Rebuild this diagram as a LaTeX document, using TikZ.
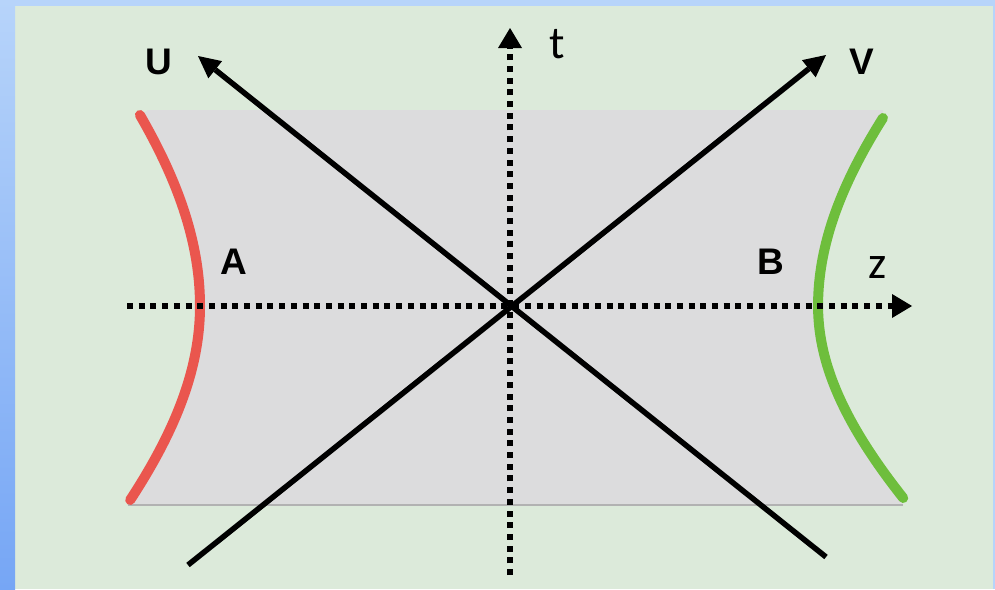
\documentclass[tikz,border=0pt]{standalone}
\usepackage{fontspec}
\setmainfont{Liberation Sans}
\newfontfamily\carlito{Carlito}
\usepackage{tikz}
\usetikzlibrary{arrows.meta}
\definecolor{bggreen}{RGB}{220,234,218}
\definecolor{bgblue}{RGB}{183,212,250}
\definecolor{bgbluedark}{RGB}{118,166,245}
\definecolor{wedgegray}{RGB}{220,220,221}
\definecolor{edgered}{RGB}{234,86,78}
\definecolor{edgegreen}{RGB}{110,190,60}

\begin{document}
\begin{tikzpicture}[x=1pt,y=-1pt,
  axis/.style={black,line width=6pt,dash pattern=on 6pt off 5.7pt,-{Triangle[length=20pt,width=24pt,line width=0pt]}},
  cone/.style={black,line width=5.5pt,-{Triangle[length=22pt,width=22pt,line width=0pt]}},
  edge/.style={line width=10pt,line cap=round},
  bold/.style={font=\fontsize{37pt}{40pt}\selectfont\bfseries,inner sep=0pt},
  thin/.style={font=\carlito\fontsize{46pt}{48pt}\selectfont,inner sep=0pt}]
\useasboundingbox (0,0) rectangle (995,589);
% frame
\fill[bggreen] (0,0) rectangle (995,589);
\fill[bgblue] (0,0) rectangle (995,6);
\shade[top color=bgblue,bottom color=bgbluedark] (0,0) rectangle (15,589);
\fill[bgblue] (993,0) rectangle (995,589);
% region between the two edges
\fill[wedgegray] (148,110) -- (883,110)
  -- plot[domain=118:306,samples=40,variable=\y] ({510+100*sqrt(9.49+1.25*((\y-306)/100)*((\y-306)/100))},\y)
  -- plot[domain=306:498,samples=40,variable=\y] ({510+100*sqrt(9.49+1.62*((\y-306)/100)*((\y-306)/100))},\y)
  -- (903,505) -- (128,505)
  -- plot[domain=500:306,samples=40,variable=\y] ({510-100*sqrt(9.61+1.28*((\y-306)/100)*((\y-306)/100))},\y)
  -- plot[domain=306:115,samples=40,variable=\y] ({510-100*sqrt(9.61+1.12*((\y-306)/100)*((\y-306)/100))},\y)
  -- cycle;
\draw[gray!60,line width=1.5pt] (128,505) -- (903,505);
\draw[edge,edgered]
  plot[domain=115:306,samples=40,variable=\y] ({510-100*sqrt(9.61+1.12*((\y-306)/100)*((\y-306)/100))},\y)
  -- plot[domain=306:500,samples=40,variable=\y] ({510-100*sqrt(9.61+1.28*((\y-306)/100)*((\y-306)/100))},\y);
\draw[edge,edgegreen]
  plot[domain=118:306,samples=40,variable=\y] ({510+100*sqrt(9.49+1.25*((\y-306)/100)*((\y-306)/100))},\y)
  -- plot[domain=306:498,samples=40,variable=\y] ({510+100*sqrt(9.49+1.62*((\y-306)/100)*((\y-306)/100))},\y);
% axes and light cone
\coordinate (tbot) at (510,575);
\coordinate (ttop) at (510,28);
\coordinate (zleft) at (127,306);
\coordinate (zright) at (912,306);
\coordinate (ubot) at (826,557);
\coordinate (utop) at (198,56);
\coordinate (vbot) at (188,565);
\coordinate (vtop) at (826,55);
\draw[axis] (tbot) -- (ttop);
\draw[axis] (zleft) -- (zright);
\draw[cone] (ubot) -- (utop);
\draw[cone] (vbot) -- (vtop);
% labels
\node[bold] (labu) at (159,62) {U};
\node[bold] (labv) at (862,62) {V};
\node[bold] (laba) at (234,262) {A};
\node[bold] (labb) at (771,262) {B};
\node[thin] (labt) at (557,44) {t};
\node[thin] (labz) at (878,268) {z};
\end{tikzpicture}
\end{document}
